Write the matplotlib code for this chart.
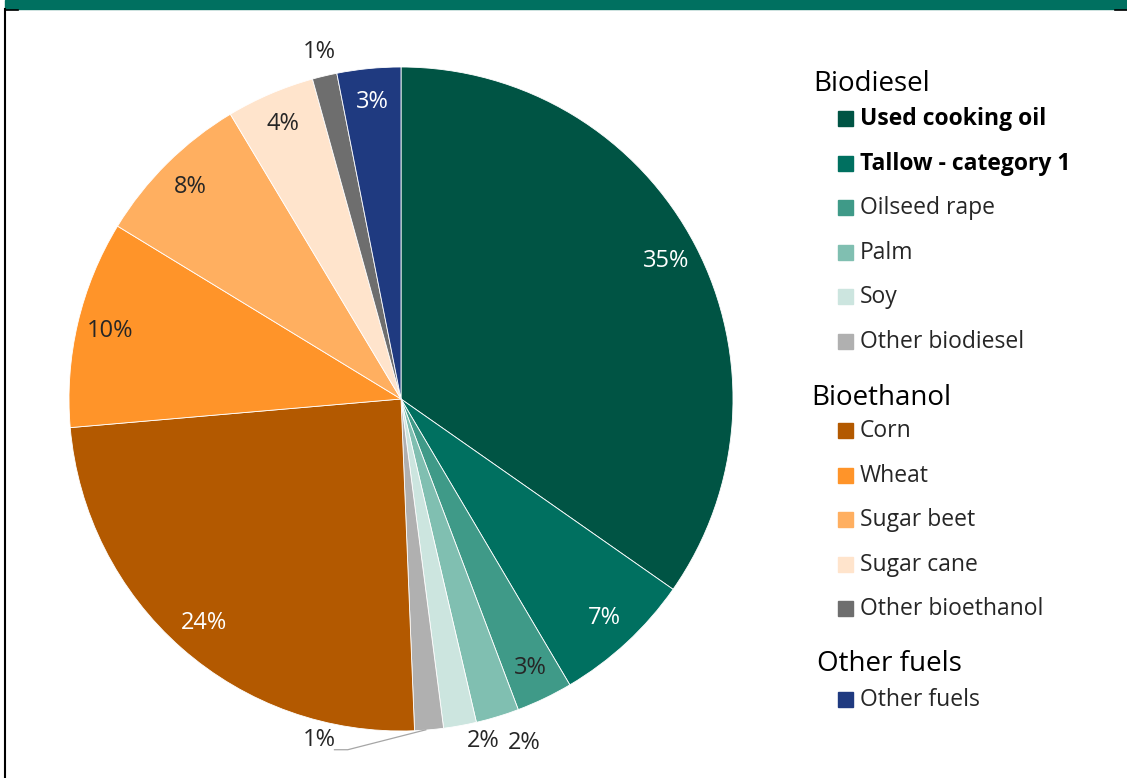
import matplotlib.pyplot as plt
from matplotlib.patches import Rectangle
import numpy as np

plt.rcParams['font.family'] = ['Open Sans', 'DejaVu Sans']

# feedstock shares, clockwise from 12 o'clock
feedstocks = ['Used cooking oil', 'Tallow - category 1', 'Oilseed rape', 'Palm', 'Soy',
              'Other biodiesel', 'Corn', 'Wheat', 'Sugar beet', 'Sugar cane',
              'Other bioethanol', 'Other fuels']
shares = [34.75, 6.8, 2.75, 2.1, 1.6, 1.4, 24.3, 10.1, 7.7, 4.3, 1.2, 3.1]
pct_labels = ['35%', '7%', '3%', '2%', '2%', '1%', '24%', '10%', '8%', '4%', '1%', '3%']
colors = ['#005444', '#007060', '#3f9a88', '#80bfb1', '#cce5df', '#b0b0b0',
          '#b35900', '#ff9429', '#ffaf60', '#ffe4cc', '#6e6e6e', '#1f3a80']
groups = [('Biodiesel', 0, 6), ('Bioethanol', 6, 11), ('Other fuels', 11, 12)]
bold_items = ['Used cooking oil', 'Tallow - category 1']

W, H = 1127, 778
fig = plt.figure(figsize=(W / 100, H / 100), dpi=100)

# green band on top + left frame line
fig.patches.append(Rectangle((5 / W, 1 - 9 / H), 1, 9 / H, transform=fig.transFigure,
                             color='#007060', zorder=0))
fig.add_artist(plt.Line2D([4.5 / W, 4.5 / W], [0, 1 - 9 / H], color='black', lw=1.5))
fig.add_artist(plt.Line2D([4.5 / W, 18 / W], [1 - 9.5 / H, 1 - 9.5 / H], color='black', lw=1.2))
fig.add_artist(plt.Line2D([1115 / W, 1127 / W], [1 - 9.5 / H, 1 - 9.5 / H], color='black', lw=1.2))

ax = fig.add_axes([69 / W, 47 / H, 664 / W, 664 / H])
wedges, _ = ax.pie(shares, colors=colors, startangle=90, counterclock=False,
                   wedgeprops=dict(edgecolor='white', linewidth=0.6))
ax.set_xlim(-1, 1)
ax.set_ylim(-1, 1)
ax.set_aspect('equal')
ax.axis('off')

white_text = ['Used cooking oil', 'Tallow - category 1', 'Corn', 'Other fuels']
# outside labels: (angle shift deg, radius)
outside = {'Palm': (2.8, 1.10), 'Soy': (3.2, 1.06), 'Other bioethanol': (0, 1.075)}
fs = 17

for w, name, lab in zip(wedges, feedstocks, pct_labels):
    mid = np.deg2rad((w.theta1 + w.theta2) / 2)
    if name == 'Other biodiesel':
        ex, ey = np.cos(mid), np.sin(mid)
        ax.plot([ex - 0.01, ex - 0.245, ex - 0.285], [ey, ey - 0.06, ey - 0.06],
                color='#a6a6a6', lw=0.9, clip_on=False)
        ax.text(ex - 0.28, ey - 0.03, lab, ha='right', va='center', fontsize=fs,
                color='#262626')
        continue
    if name in outside:
        shift, r = outside[name]
        a = mid + np.deg2rad(shift)
        ax.text(r * np.cos(a), r * np.sin(a), lab, ha='center', va='center',
                fontsize=fs, color='#262626')
        continue
    r = 0.9
    ax.text(r * np.cos(mid), r * np.sin(mid), lab, ha='center', va='center', fontsize=fs,
            color='white' if name in white_text else '#262626')

# grouped legend
head_x = [813, 811, 817]
head_y = [84, 398, 664]
item_y0 = [119, 431, 700]
step = 44.6
for (title, i0, i1), hx, hy, y0 in zip(groups, head_x, head_y, item_y0):
    fig.text(hx / W, 1 - hy / H, title, fontsize=20, ha='left', va='center', color='black')
    for k in range(i0, i1):
        y = y0 + (k - i0) * step
        fig.patches.append(Rectangle((838 / W, 1 - (y + 7) / H), 15 / W, 15 / H,
                                     transform=fig.transFigure, color=colors[k]))
        fig.text(860 / W, 1 - y / H, feedstocks[k], fontsize=16.5, ha='left', va='center',
                 color='black' if feedstocks[k] in bold_items else '#262626',
                 fontweight='bold' if feedstocks[k] in bold_items else 'normal')

fig.savefig('out.png', dpi=100, facecolor='white')
